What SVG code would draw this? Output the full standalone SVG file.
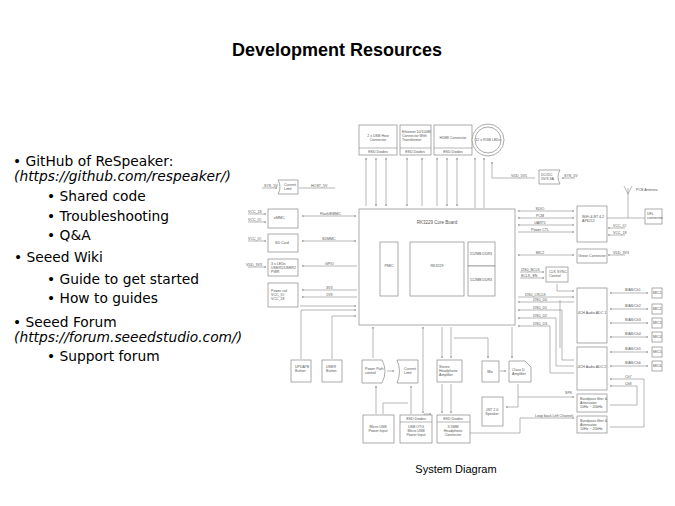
<svg xmlns="http://www.w3.org/2000/svg" width="675" height="506" viewBox="0 0 675 506">
<defs>
<marker id="a" viewBox="0 0 6 6" refX="6" refY="3" markerWidth="4" markerHeight="4" orient="auto-start-reverse"><path d="M0,0 L6,3 L0,6" fill="none" stroke="#777" stroke-width="1"/></marker>
<style>
.b{fill:#fff;stroke:#888;stroke-width:0.7}
.l{fill:none;stroke:#888;stroke-width:0.6}
.e{marker-end:url(#a)}
.s{marker-start:url(#a)}
.t{font-family:"Liberation Sans",Arial,sans-serif;font-size:3.6px;fill:#555}
.m{text-anchor:middle}
.h{font-family:"DejaVu Sans",Verdana,sans-serif;font-size:13.8px;fill:#000}
.i{font-style:oblique}
</style>
</defs>
<rect width="675" height="506" fill="#fff"/>
<text x="337" y="56" text-anchor="middle" font-family="Liberation Sans,Arial,sans-serif" font-weight="bold" font-size="18">Development Resources</text>
<g id="bullets" class="h">
<text x="13" y="166">• GitHub  of ReSpeaker:</text>
<text x="14" y="181" class="i">(https://github.com/respeaker/)</text>
<text x="47" y="201">•  Shared code</text>
<text x="47" y="221">•  Troubleshooting</text>
<text x="47" y="240">•  Q&amp;A</text>
<text x="14" y="262">•  Seeed Wiki</text>
<text x="47" y="284">•  Guide  to get started</text>
<text x="47" y="303">•  How  to guides</text>
<text x="13" y="327">• Seeed Forum</text>
<text x="14" y="342" class="i">(https://forum.seeedstudio.com/)</text>
<text x="47" y="361">•  Support forum</text>
</g>
<text x="456" y="473" text-anchor="middle" font-family="Liberation Sans,Arial,sans-serif" font-size="11">System Diagram</text>

<g id="connectors">
<path class="l s" d="M366,158 V206"/><path class="l s e" d="M376,158 V206"/><path class="l s e" d="M386,158 V206"/>
<path class="l s e" d="M407,158 V206"/><path class="l s" d="M422,158 V206"/>
<path class="l s" d="M437,158 V206"/><path class="l s e" d="M447,158 V206"/><path class="l s e" d="M457,158 V206"/>
<path class="l s" d="M475,158 V208"/><path class="l s" d="M484,158 V208"/>
<path class="l s" d="M492,162 V178 H535"/><path class="l e" d="M575,178 H562"/>
<path class="l e" d="M262,188 H277"/><path class="l" d="M299,188 H335"/>
<path class="l e" d="M248,214 H266"/><path class="l e" d="M248,222 H266"/><path class="l e" d="M248,241 H266"/><path class="l e" d="M248,267 H266"/>
<path class="l s e" d="M302,216 H356"/><path class="l s e" d="M302,241 H356"/><path class="l s" d="M302,266 H357"/>
<path class="l s" d="M302,290 H357"/><path class="l s" d="M302,297 H357"/><path class="l e" d="M300,306 H356"/>
<path class="l e" d="M301,359 V310 H356"/><path class="l e" d="M332,359 V316 H356"/>
<path class="l e" d="M373,358 V327"/><path class="l e" d="M387,371 H394"/><path class="l e" d="M424,443 V414 H431"/>
<path class="l e" d="M376,414 V386"/><path class="l" d="M383,414 V403 H408"/><path class="l e" d="M411,414 V386"/>
<path class="l s e" d="M423,327 V413"/><path class="l e" d="M442,327 V358"/><path class="l e" d="M451,327 V358"/>
<path class="l e" d="M442,384 V413"/><path class="l e" d="M451,384 V413"/>
<path class="l e" d="M454,338 H488 V358"/><path class="l e" d="M500,371 H506"/><path class="l e" d="M512,327 V358"/>
<path class="l e" d="M518,384 V407 H506"/><path class="l e" d="M518,397 H574"/>
<path class="l e" d="M462,433 H520 V418 H574"/>
<path class="l s e" d="M518,211 H574"/><path class="l s e" d="M518,218 H574"/><path class="l s e" d="M518,225 H574"/><path class="l e" d="M518,232 H574"/>
<path class="l e" d="M625,228 H608"/><path class="l e" d="M625,235 H608"/>
<path class="l" d="M607,218 H645"/><path class="l" d="M628,218 V188"/><path class="l" d="M624,186 L628,194 L632,186"/>
<path class="l s e" d="M518,255 H574"/><path class="l e" d="M625,255 H608"/>
<path class="l e" d="M520,272 H544"/><path class="l e" d="M520,278 H544"/>
<path class="l e" d="M557,284 V291 H574"/>
<path class="l e" d="M518,297 H574"/><path class="l s" d="M518,302 H574"/><path class="l s" d="M518,310 H562 V360 H574"/>
<path class="l s" d="M518,318 H556 V366 H574"/><path class="l s" d="M518,326 H550 V373 H574"/>
<path class="l" d="M560,300 V348"/>
<path class="l s e" d="M610,293 H648"/><path class="l s e" d="M610,309 H648"/><path class="l s e" d="M610,323 H648"/>
<path class="l s e" d="M610,337 H648"/><path class="l s e" d="M610,352 H648"/><path class="l s e" d="M610,366 H648"/>
<path class="l s" d="M610,379 H644 V427 H610"/><path class="l s" d="M610,386 H637 V405 H610"/>
</g>
<g class="t">
<text x="264" y="187">SYS_5V</text><text x="311" y="187">HOST_5V</text>
<text x="248" y="213">VCC_18</text><text x="248" y="221">VCC_IO</text><text x="248" y="240">VCC_IO</text><text x="246" y="266">VDD_3V3</text>
<text x="320" y="215">Flash/EMMC</text><text x="322" y="240">SDMMC</text><text x="325" y="265">GPIO</text><text x="326" y="289">3V3</text><text x="326" y="296">1V8</text>
<text x="511" y="177">VDD_5V5</text><text x="564" y="177">SYS_5V</text><text x="636" y="191">PCB Antenna</text>
<text x="540" y="210" class="m">SDIO</text><text x="540" y="217" class="m">PCM</text><text x="540" y="224" class="m">UART1</text><text x="540" y="231" class="m">Power CTL</text>
<text x="613" y="227">VCC_IO</text><text x="613" y="234">VCC_18</text><text x="540" y="254" class="m">MIC2</text><text x="613" y="254">VDD_3V3</text>
<text x="521" y="271">I2S0_BCLK</text><text x="521" y="277">BCLK_EN</text>
<text x="525" y="296">I2S0_LRCLK</text><text x="533" y="301">I2S0_D0</text><text x="533" y="309">I2S0_D1</text><text x="533" y="317">I2S0_D2</text><text x="533" y="325">I2S0_D3</text>
<text x="565" y="394">SPK</text><text x="535" y="417">Loop back Left Channel</text>
</g>

<g id="core"><rect class="b" x="359" y="209" width="156" height="116"/><text class="t m" x="437" y="224" style="font-size:4.5px">RK3229 Core Board</text></g>
<g id="pmic"><rect class="b" x="380" y="242" width="18" height="54"/><text class="t m" x="389" y="267">PMIC</text></g>
<g id="rk"><rect class="b" x="410" y="242" width="54" height="54"/><text class="t m" x="437" y="267">RK3229</text></g>
<g id="ddr1"><rect class="b" x="468" y="242" width="27" height="24"/><text class="t m" x="481" y="255">512MB DDR3</text></g>
<g id="ddr2"><rect class="b" x="468" y="266" width="27" height="30"/><text class="t m" x="481" y="281">512MB DDR3</text></g>
<g id="usbh"><rect class="b" x="359" y="125" width="38" height="30"/><path class="l" d="M359,148 H397"/><text class="t m" x="378" y="137">2 x USB Host</text><text class="t m" x="378" y="141">Connector</text><text class="t m" x="378" y="153">ESD Diodes</text></g>
<g id="eth"><rect class="b" x="400" y="125" width="31" height="30"/><path class="l" d="M400,148 H431"/><text class="t" x="402" y="133">Ethernet 10/100M</text><text class="t" x="402" y="137">Connector With</text><text class="t" x="402" y="141">Transformer</text><text class="t m" x="415" y="153">ESD Diodes</text></g>
<g id="hdmi"><rect class="b" x="434" y="125" width="38" height="30"/><path class="l" d="M434,148 H472"/><text class="t m" x="453" y="139">HDMI Connector</text><text class="t m" x="453" y="153">ESD Diodes</text></g>
<g id="leds"><circle class="b" cx="488" cy="140" r="16"/><circle class="b" cx="488" cy="140" r="13"/><text class="t m" x="488" y="141">12 x RGB LEDs</text></g>
<g id="dcdc"><path class="b" d="M539,170 H560 Q556,177 560,184 H539 Z"/><text class="t" x="541" y="176">DC/DC</text><text class="t" x="541" y="180">5V/3.3A</text></g>
<g id="curlim"><path class="b" d="M278,180 H298 V194 H278 Q282,187 278,180 Z"/><text class="t" x="284" y="186">Current</text><text class="t" x="284" y="190">Limit</text></g>
<g id="emmc"><rect class="b" x="268" y="209" width="30" height="19"/><text class="t" x="274" y="219">eMMC</text></g>
<g id="sd"><rect class="b" x="268" y="234" width="30" height="18"/><text class="t" x="275" y="244">SD Card</text></g>
<g id="ledbox"><rect class="b" x="268" y="259" width="30" height="17"/><text class="t" x="271" y="265">3 x LEDs</text><text class="t" x="271" y="269">USER1/USER2</text><text class="t" x="271" y="273">PWR</text></g>
<g id="prail"><rect class="b" x="268" y="283" width="30" height="24"/><text class="t" x="271" y="292">Power rail</text><text class="t" x="271" y="296">VCC_IO</text><text class="t" x="271" y="300">VCC_18</text></g>
<g id="upd"><rect class="b" x="291" y="360" width="20" height="22"/><text class="t" x="295" y="368">UPDATE</text><text class="t" x="295" y="372">Button</text></g>
<g id="usr"><rect class="b" x="322" y="360" width="20" height="22"/><text class="t" x="326" y="368">USER</text><text class="t" x="326" y="372">Button</text></g>
<g id="ppath"><path class="b" d="M362,360 H382 Q388,371 382,383 H362 Z"/><text class="t" x="365" y="370">Power Path</text><text class="t" x="365" y="374">control</text></g>
<g id="curlim2"><path class="b" d="M397,360 H418 V383 H397 Q402,371 397,360 Z"/><text class="t" x="404" y="370">Current</text><text class="t" x="404" y="374">Limit</text></g>
<g id="microusb"><rect class="b" x="363" y="415" width="31" height="28"/><text class="t m" x="378" y="428">Micro USB</text><text class="t m" x="378" y="432">Power Input</text></g>
<g id="otg"><rect class="b" x="400" y="415" width="32" height="28"/><path class="l" d="M400,422 H432"/><text class="t m" x="416" y="420">ESD Diodes</text><text class="t m" x="416" y="428">USB OTG</text><text class="t m" x="416" y="432">Micro USB</text><text class="t m" x="416" y="436">Power Input</text></g>
<g id="hpconn"><rect class="b" x="437" y="415" width="33" height="28"/><path class="l" d="M437,422 H470"/><text class="t m" x="453" y="420">ESD Diodes</text><text class="t m" x="453" y="428">3.5MM</text><text class="t m" x="453" y="432">Headphone</text><text class="t m" x="453" y="436">Connector</text></g>
<g id="hpamp"><rect class="b" x="437" y="360" width="25" height="22"/><text class="t" x="439" y="368">Stereo</text><text class="t" x="439" y="372">Headphone</text><text class="t" x="439" y="376">Amplifier</text></g>
<g id="mix"><rect class="b" x="482" y="361" width="17" height="21"/><text class="t m" x="490" y="373">Mix</text></g>
<g id="classd"><path class="b" d="M509,361 H525 L531,367 V382 H509 Z"/><text class="t" x="512" y="371">Class D</text><text class="t" x="512" y="375">Amplifier</text></g>
<g id="spk"><rect class="b" x="482" y="397" width="21" height="29"/><text class="t m" x="492" y="411">JST 2.0</text><text class="t m" x="492" y="415">Speaker</text></g>
<g id="wifi"><rect class="b" x="577" y="206" width="30" height="36"/><text class="t" x="582" y="218">WiFi &amp; BT 4.2</text><text class="t" x="582" y="222">AP6212</text></g>
<g id="ufl"><rect class="b" x="645" y="209" width="17" height="15"/><text class="t" x="647" y="215">UFL</text><text class="t" x="647" y="219">connector</text></g>
<g id="grove"><rect class="b" x="577" y="249" width="30" height="14"/><text class="t m" x="592" y="257">Grove Connector</text></g>
<g id="clk"><rect class="b" x="546" y="267" width="22" height="15"/><text class="t" x="549" y="273">CLK SYNC</text><text class="t" x="549" y="277">Control</text></g>
<g id="adc1"><rect class="b" x="577" y="288" width="30" height="55"/><text class="t m" x="592" y="314">4CH Audio ADC 1</text></g>
<g id="adc2"><rect class="b" x="577" y="347" width="30" height="43"/><text class="t m" x="592" y="368">4CH Audio ADC 2</text></g>
<g id="bp1"><rect class="b" x="577" y="394" width="30" height="18"/><text class="t" x="580" y="400">Bandpass filter &amp;</text><text class="t" x="580" y="404">Attenuator</text><text class="t" x="580" y="408">10Hz ~ 20kHz</text></g>
<g id="bp2"><rect class="b" x="577" y="416" width="30" height="17"/><text class="t" x="580" y="422">Bandpass filter &amp;</text><text class="t" x="580" y="426">Attenuator</text><text class="t" x="580" y="430">10Hz ~ 20kHz</text></g>
<g id="mics" class="t">
<rect class="b" x="652" y="288" width="10" height="10"/><text x="653" y="294">MIC1</text>
<rect class="b" x="652" y="304" width="10" height="10"/><text x="653" y="310">MIC2</text>
<rect class="b" x="652" y="318" width="10" height="10"/><text x="653" y="324">MIC3</text>
<rect class="b" x="652" y="332" width="10" height="10"/><text x="653" y="338">MIC4</text>
<rect class="b" x="652" y="347" width="10" height="10"/><text x="653" y="353">MIC5</text>
<rect class="b" x="652" y="361" width="10" height="10"/><text x="653" y="367">MIC6</text>
<text x="625" y="291">BIAS/Ch1</text><text x="625" y="307">BIAS/Ch2</text><text x="625" y="321">BIAS/Ch3</text><text x="625" y="335">BIAS/Ch4</text><text x="625" y="350">BIAS/Ch5</text><text x="625" y="364">BIAS/Ch6</text>
<text x="625" y="378">Ch7</text><text x="625" y="385">Ch8</text>
</g>
</svg>
